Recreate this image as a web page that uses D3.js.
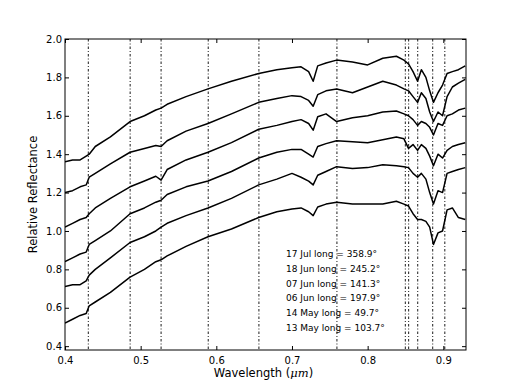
<!DOCTYPE html>
<html>
<head>
<meta charset="utf-8">
<script src="https://cdn.jsdelivr.net/npm/d3@7"></script>
<style>
  body { margin: 0; background: #fff; }
  svg text { font-family: "DejaVu Sans", sans-serif; fill: #000; }
  .axis path { display: none; }
  .axis line { stroke: #000; }
</style>
</head>
<body>
<div id="graphic"></div>
<script>
const width = 518;
const height = 390;

// wavelength grid (microns) shared by all spectra
const wavelengths = [0.400, 0.410, 0.420, 0.428, 0.432, 0.440, 0.460, 0.486, 0.505, 0.520,
  0.527, 0.535, 0.560, 0.589, 0.620, 0.656, 0.680, 0.700, 0.712, 0.722,
  0.728, 0.734, 0.745, 0.759, 0.780, 0.800, 0.820, 0.838, 0.848, 0.854,
  0.860, 0.866, 0.871, 0.877, 0.882, 0.887, 0.893, 0.899, 0.905, 0.912,
  0.920, 0.929];

const jul17 = [1.36, 1.37, 1.37, 1.39, 1.40, 1.44, 1.49, 1.57, 1.60, 1.63,
  1.64, 1.66, 1.70, 1.74, 1.78, 1.82, 1.84, 1.85, 1.855, 1.83,
  1.78, 1.86, 1.875, 1.89, 1.88, 1.865, 1.90, 1.91, 1.89, 1.87,
  1.83, 1.78, 1.84, 1.80, 1.73, 1.67, 1.72, 1.76, 1.82, 1.83,
  1.84, 1.86];
const jun18 = [1.20, 1.21, 1.23, 1.24, 1.28, 1.30, 1.35, 1.41, 1.43, 1.445,
  1.44, 1.47, 1.52, 1.56, 1.61, 1.67, 1.69, 1.705, 1.70, 1.68,
  1.65, 1.71, 1.73, 1.74, 1.72, 1.75, 1.78, 1.76, 1.74, 1.73,
  1.70, 1.67, 1.72, 1.69, 1.62, 1.57, 1.62, 1.60, 1.70, 1.75,
  1.77, 1.79];
const jun07 = [1.02, 1.04, 1.06, 1.07, 1.09, 1.12, 1.17, 1.23, 1.26, 1.285,
  1.265, 1.32, 1.37, 1.41, 1.46, 1.53, 1.55, 1.57, 1.58, 1.56,
  1.525, 1.595, 1.61, 1.57, 1.59, 1.60, 1.62, 1.625, 1.61, 1.60,
  1.58, 1.55, 1.57, 1.56, 1.54, 1.50, 1.56, 1.55, 1.60, 1.61,
  1.63, 1.64];
const jun06 = [0.84, 0.86, 0.88, 0.89, 0.93, 0.95, 1.00, 1.09, 1.12, 1.15,
  1.16, 1.19, 1.23, 1.26, 1.31, 1.38, 1.41, 1.425, 1.425, 1.40,
  1.385, 1.44, 1.455, 1.47, 1.465, 1.46, 1.475, 1.49, 1.48, 1.43,
  1.45, 1.42, 1.45, 1.43, 1.39, 1.34, 1.40, 1.38, 1.42, 1.44,
  1.45, 1.46];
const may14 = [0.71, 0.72, 0.72, 0.74, 0.77, 0.80, 0.86, 0.94, 0.97, 1.00,
  1.02, 1.04, 1.08, 1.12, 1.17, 1.24, 1.27, 1.30, 1.28, 1.26,
  1.24, 1.29, 1.31, 1.335, 1.325, 1.33, 1.345, 1.34, 1.335, 1.33,
  1.30, 1.28, 1.30, 1.27, 1.20, 1.14, 1.21, 1.20, 1.30, 1.31,
  1.32, 1.33];
const may13 = [0.52, 0.54, 0.56, 0.57, 0.61, 0.63, 0.68, 0.76, 0.80, 0.84,
  0.85, 0.87, 0.92, 0.97, 1.01, 1.07, 1.10, 1.115, 1.12, 1.10,
  1.08, 1.125, 1.14, 1.15, 1.14, 1.14, 1.14, 1.155, 1.14, 1.13,
  1.09, 1.06, 1.06, 1.05, 1.02, 0.93, 0.99, 1.00, 1.11, 1.12,
  1.07, 1.06];

const labels = ['17 Jul long = 358.9\u00b0', '18 Jun long = 245.2\u00b0', '07 Jun long = 141.3\u00b0',
  '06 Jun long = 197.9\u00b0', '14 May long = 49.7\u00b0', '13 May long = 103.7\u00b0'];

// dotted reference lines (microns)
const lineMarks = [0.4308, 0.4861, 0.527, 0.5893, 0.6563, 0.7594, 0.8498, 0.8542, 0.8662, 0.886, 0.902];

const xTicks = [0.4, 0.5, 0.6, 0.7, 0.8, 0.9];
const yTicks = [0.4, 0.6, 0.8, 1.0, 1.2, 1.4, 1.6, 1.8, 2.0];

const spectra = [jul17, jun18, jun07, jun06, may14, may13];

const plotL = 65, plotR = 466, plotT = 39, plotB = 350;

const svg = d3.select('#graphic').append('svg')
  .attr('width', width)
  .attr('height', height);

const scaleX = d3.scaleLinear().domain([0.4, 0.93]).range([plotL, plotR]);
const scaleY = d3.scaleLinear().domain([0.38, 2.0]).range([plotB, plotT]);

svg.append('clipPath').attr('id', 'plot')
  .append('rect')
  .attr('x', plotL).attr('y', plotT)
  .attr('width', plotR - plotL).attr('height', plotB - plotT);

// reference lines
svg.append('g')
  .selectAll('line')
  .data(lineMarks)
  .enter()
  .append('line')
  .attr('x1', d => scaleX(d)).attr('x2', d => scaleX(d))
  .attr('y1', plotT).attr('y2', plotB)
  .attr('stroke', '#000')
  .attr('stroke-width', 0.9)
  .attr('stroke-dasharray', '2.5,2,1,2');

const line = d3.line()
  .x((d, i) => scaleX(wavelengths[i]))
  .y(d => scaleY(d));

svg.append('g')
  .attr('clip-path', 'url(#plot)')
  .selectAll('path')
  .data(spectra)
  .enter()
  .append('path')
  .attr('d', line)
  .attr('fill', 'none')
  .attr('stroke', '#000')
  .attr('stroke-width', 1.5)
  .attr('stroke-linejoin', 'round');

//Axis
const fmt = d3.format('.1f');

svg.append('g').attr('class', 'axis')
  .attr('transform', `translate(0,${plotB})`)
  .call(d3.axisBottom(scaleX).tickValues(xTicks).tickFormat(fmt).tickSize(-4).tickPadding(5))
  .selectAll('text').attr('font-size', 10).attr('dy', '0.9em');

svg.append('g').attr('class', 'axis')
  .attr('transform', `translate(0,${plotT})`)
  .call(d3.axisTop(scaleX).tickValues(xTicks).tickFormat('').tickSize(-4));

svg.append('g').attr('class', 'axis')
  .attr('transform', `translate(${plotL},0)`)
  .call(d3.axisLeft(scaleY).tickValues(yTicks).tickFormat(fmt).tickSize(-4).tickPadding(3))
  .selectAll('text').attr('font-size', 10);

svg.append('g').attr('class', 'axis')
  .attr('transform', `translate(${plotR},0)`)
  .call(d3.axisRight(scaleY).tickValues(yTicks).tickFormat('').tickSize(-4));
//Axis END

svg.append('rect')
  .attr('x', plotL).attr('y', plotT)
  .attr('width', plotR - plotL).attr('height', plotB - plotT)
  .attr('fill', 'none')
  .attr('stroke', '#000')
  .attr('stroke-width', 1);

// legend (text only)
svg.append('g')
  .selectAll('text')
  .data(labels)
  .enter()
  .append('text')
  .attr('x', 286)
  .attr('y', (d, i) => 257 + i * 14.8)
  .attr('font-size', 9)
  .text(d => d);

const xLabel = svg.append('text')
  .attr('x', (plotL + plotR) / 2 - 2)
  .attr('y', 377)
  .attr('text-anchor', 'middle')
  .attr('font-size', 11.5);
xLabel.append('tspan').text('Wavelength (');
xLabel.append('tspan').attr('font-style', 'italic').attr('font-family', 'DejaVu Serif').text('\u03bcm');
xLabel.append('tspan').text(')');

svg.append('text')
  .attr('transform', `translate(37,${(plotT + plotB) / 2}) rotate(-90)`)
  .attr('text-anchor', 'middle')
  .attr('font-size', 11.5)
  .text('Relative Reflectance');
</script>
</body>
</html>
